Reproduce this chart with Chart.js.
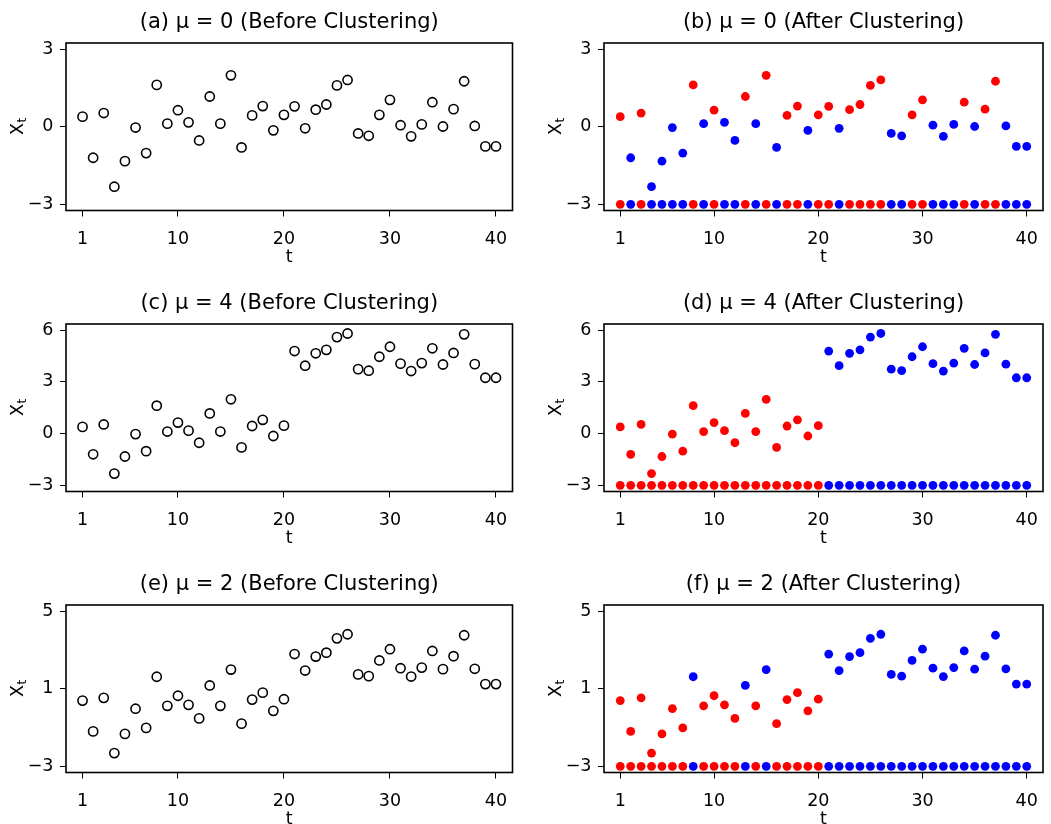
<!DOCTYPE html>
<html>
<head>
<meta charset="utf-8">
<script src="https://cdn.jsdelivr.net/npm/chart.js@4.4.1/dist/chart.umd.min.js"></script>
<style>
  html, body { margin: 0; padding: 0; background: #fff; overflow: hidden; }
  body { width: 1051px; height: 824px; position: relative; }
  canvas { position: absolute; }
</style>
</head>
<body>
<script>
// time index and x-axis ticks
var tValues = [1, 2, 3, 4, 5, 6, 7, 8, 9, 10, 11, 12, 13, 14, 15, 16, 17, 18, 19, 20,
               21, 22, 23, 24, 25, 26, 27, 28, 29, 30, 31, 32, 33, 34, 35, 36, 37, 38, 39, 40];
var xTicks = [1, 10, 20, 30, 40];

// observed series for each mean shift
var seriesMu0 = [0.39, -1.20, 0.53, -2.32, -1.33, -0.03, -1.02, 1.62, 0.12, 0.64,
                 0.17, -0.53, 1.17, 0.12, 1.99, -0.80, 0.44, 0.80, -0.14, 0.46,
                 0.79, -0.06, 0.66, 0.86, 1.60, 1.81, -0.26, -0.35, 0.46, 1.04,
                 0.06, -0.37, 0.09, 0.95, 0.01, 0.68, 1.76, 0.03, -0.76, -0.76];
var seriesMu4 = [0.39, -1.20, 0.53, -2.32, -1.33, -0.03, -1.02, 1.62, 0.12, 0.64,
                 0.17, -0.53, 1.17, 0.12, 1.99, -0.80, 0.44, 0.80, -0.14, 0.46,
                 4.79, 3.94, 4.66, 4.86, 5.60, 5.81, 3.74, 3.65, 4.46, 5.04,
                 4.06, 3.63, 4.09, 4.95, 4.01, 4.68, 5.76, 4.03, 3.24, 3.24];
var seriesMu2 = [0.39, -1.20, 0.53, -2.32, -1.33, -0.03, -1.02, 1.62, 0.12, 0.64,
                 0.17, -0.53, 1.17, 0.12, 1.99, -0.80, 0.44, 0.80, -0.14, 0.46,
                 2.79, 1.94, 2.66, 2.86, 3.60, 3.81, 1.74, 1.65, 2.46, 3.04,
                 2.06, 1.63, 2.09, 2.95, 2.01, 2.68, 3.76, 2.03, 1.24, 1.24];

// cluster labels (1 = red, 2 = blue)
var clusterMu0 = [1, 2, 1, 2, 2, 2, 2, 1, 2, 1, 2, 2, 1, 2, 1, 2, 1, 1, 2, 1,
                  1, 2, 1, 1, 1, 1, 2, 2, 1, 1, 2, 2, 2, 1, 2, 1, 1, 2, 2, 2];
var clusterMu4 = [1, 1, 1, 1, 1, 1, 1, 1, 1, 1, 1, 1, 1, 1, 1, 1, 1, 1, 1, 1,
                  2, 2, 2, 2, 2, 2, 2, 2, 2, 2, 2, 2, 2, 2, 2, 2, 2, 2, 2, 2];
var clusterMu2 = [1, 1, 1, 1, 1, 1, 1, 2, 1, 1, 1, 1, 2, 1, 2, 1, 1, 1, 1, 1,
                  2, 2, 2, 2, 2, 2, 2, 2, 2, 2, 2, 2, 2, 2, 2, 2, 2, 2, 2, 2];
var clusterRow = -3;

// y-axis ticks and limits
var yTicksMu0 = [-3, 0, 3];
var yTicksMu4 = [-3, 0, 3, 6];
var yTicksMu2 = [-3, 1, 5];
var yLimMu0 = [-3, 3];
var yLimMu4 = [-3, 6];
var yLimMu2 = [-3, 5];

var FONT = '"DejaVu Sans", sans-serif';
var clusterColors = { 1: '#ff0000', 2: '#0000ff' };

// R style axis range: 4% extension on both ends
function extend(lim) {
  var d = (lim[1] - lim[0]) * 0.04;
  return [lim[0] - d, lim[1] + d];
}

function minusSign(v) {
  return v < 0 ? '\u2212' + Math.abs(v) : String(v);
}

var boxPlugin = {
  id: 'box',
  afterDraw: function(chart) {
    var a = chart.chartArea, ctx = chart.ctx;
    ctx.save();
    ctx.strokeStyle = '#000';
    ctx.lineWidth = 1.6;
    ctx.strokeRect(a.left, a.top, a.right - a.left, a.bottom - a.top);
    ctx.restore();
  }
};

// "X" with subscript "t", rotated along the y axis
var yLabelPlugin = {
  id: 'yLabel',
  afterDraw: function(chart) {
    var a = chart.chartArea, ctx = chart.ctx;
    ctx.save();
    ctx.translate(a.left - 48, (a.top + a.bottom) / 2);
    ctx.rotate(-Math.PI / 2);
    ctx.fillStyle = '#000';
    ctx.textBaseline = 'middle';
    ctx.textAlign = 'left';
    ctx.font = '17.5px ' + FONT;
    var wX = ctx.measureText('X').width;
    ctx.font = '12px ' + FONT;
    var wT = ctx.measureText('t').width;
    var x0 = -(wX + wT) / 2;
    ctx.font = '17.5px ' + FONT;
    ctx.fillText('X', x0, 0);
    ctx.font = '12px ' + FONT;
    ctx.fillText('t', x0 + wX + 0.5, 5);
    ctx.restore();
  }
};

function makePanel(p) {
  var canvas = document.createElement('canvas');
  canvas.width = p.width;
  canvas.height = 270;
  canvas.style.left = p.left + 'px';
  canvas.style.top = p.top + 'px';
  document.body.appendChild(canvas);

  var points = tValues.map(function(t, i) { return { x: t, y: p.values[i] }; });
  var datasets;
  if (p.clusters) {
    var colors = p.clusters.map(function(c) { return clusterColors[c]; });
    datasets = [
      {
        data: points,
        pointRadius: 4.4,
        pointBorderWidth: 0,
        pointBackgroundColor: colors
      },
      {
        data: tValues.map(function(t) { return { x: t, y: clusterRow }; }),
        pointRadius: 4.4,
        pointBorderWidth: 0,
        pointBackgroundColor: colors
      }
    ];
  } else {
    datasets = [{
      data: points,
      pointRadius: 4.6,
      pointBorderWidth: 1.6,
      pointBorderColor: '#000',
      pointBackgroundColor: 'rgba(0,0,0,0)'
    }];
  }

  var xr = extend([1, 40]);
  var yr = extend(p.yLim);

  new Chart(canvas, {
    type: 'scatter',
    data: { datasets: datasets },
    options: {
      responsive: false,
      animation: false,
      devicePixelRatio: 1,
      layout: { padding: { left: 0, right: p.padRight, top: 0, bottom: 0 } },
      plugins: {
        legend: { display: false },
        tooltip: { enabled: false },
        title: {
          display: true,
          text: p.title,
          fullSize: false,
          color: '#000',
          font: { family: FONT, size: 21, weight: 'normal' },
          padding: { top: 10, bottom: 7.8 }
        }
      },
      scales: {
        x: {
          type: 'linear',
          min: xr[0],
          max: xr[1],
          afterBuildTicks: function(s) { s.ticks = xTicks.map(function(v) { return { value: v }; }); },
          afterFit: function(s) { s.height = 59.5; },
          ticks: {
            color: '#000',
            font: { family: FONT, size: 17.5 },
            padding: 12,
            maxRotation: 0,
            autoSkip: false,
            callback: minusSign
          },
          grid: { drawOnChartArea: false, drawTicks: true, tickLength: 6, color: '#000', tickWidth: 1 },
          border: { display: false },
          title: {
            display: true,
            text: 't',
            color: '#000',
            font: { family: FONT, size: 17.5 },
            padding: { top: 0, bottom: 2.5 }
          }
        },
        y: {
          type: 'linear',
          min: yr[0],
          max: yr[1],
          afterBuildTicks: function(s) { s.ticks = p.yTicks.map(function(v) { return { value: v }; }); },
          afterFit: function(s) { s.width = 66; },
          ticks: {
            color: '#000',
            font: { family: FONT, size: 17.5 },
            padding: 6.5,
            autoSkip: false,
            callback: minusSign
          },
          grid: { drawOnChartArea: false, drawTicks: true, tickLength: 6, color: '#000', tickWidth: 1 },
          border: { display: false }
        }
      }
    },
    plugins: [boxPlugin, yLabelPlugin]
  });
}

var panels = [
  { title: '(a) \u03bc = 0 (Before Clustering)', values: seriesMu0, clusters: null,
    yTicks: yTicksMu0, yLim: yLimMu0, left: 0, top: 0, width: 525, padRight: 12.5 },
  { title: '(b) \u03bc = 0 (After Clustering)', values: seriesMu0, clusters: clusterMu0,
    yTicks: yTicksMu0, yLim: yLimMu0, left: 538, top: 0, width: 517, padRight: 12 },
  { title: '(c) \u03bc = 4 (Before Clustering)', values: seriesMu4, clusters: null,
    yTicks: yTicksMu4, yLim: yLimMu4, left: 0, top: 281, width: 525, padRight: 12.5 },
  { title: '(d) \u03bc = 4 (After Clustering)', values: seriesMu4, clusters: clusterMu4,
    yTicks: yTicksMu4, yLim: yLimMu4, left: 538, top: 281, width: 517, padRight: 12 },
  { title: '(e) \u03bc = 2 (Before Clustering)', values: seriesMu2, clusters: null,
    yTicks: yTicksMu2, yLim: yLimMu2, left: 0, top: 562, width: 525, padRight: 12.5 },
  { title: '(f) \u03bc = 2 (After Clustering)', values: seriesMu2, clusters: clusterMu2,
    yTicks: yTicksMu2, yLim: yLimMu2, left: 538, top: 562, width: 517, padRight: 12 }
];

panels.forEach(makePanel);
</script>
</body>
</html>
